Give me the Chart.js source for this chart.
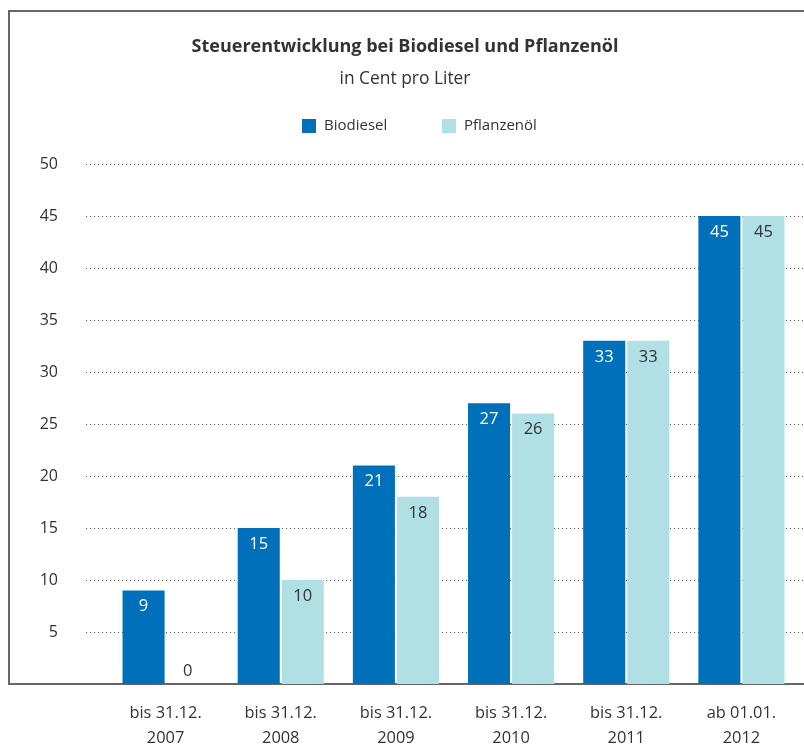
<!DOCTYPE html>
<html>
<head>
<meta charset="utf-8">
<script src="https://cdn.jsdelivr.net/npm/chart.js@4/dist/chart.umd.min.js"></script>
<style>
  html, body { margin: 0; padding: 0; background: #fff; }
  canvas { display: block; }
</style>
</head>
<body>
<canvas id="chart" width="804" height="745"></canvas>
<script>
const categories = [
  ['bis 31.12.', '2007'],
  ['bis 31.12.', '2008'],
  ['bis 31.12.', '2009'],
  ['bis 31.12.', '2010'],
  ['bis 31.12.', '2011'],
  ['ab 01.01.', '2012']
];
const biodiesel = [9, 15, 21, 27, 33, 45];
const pflanzenoel = [0, 10, 18, 26, 33, 45];
const seriesNames = ['Biodiesel', 'Pflanzenöl'];
const yMin = 0, yMax = 50, yStep = 5;

const titleText = 'Steuerentwicklung bei Biodiesel und Pflanzenöl';
const subtitleText = 'in Cent pro Liter';

const FONT = "'Open Sans', sans-serif";
const BLUE = '#0070bb';
const LIGHT = '#b0dfe4';
const TEXT = '#333333';

// frame + title + legend, drawn straight onto the canvas
const decoration = {
  id: 'decoration',
  beforeDraw(chart) {
    const ctx = chart.ctx;
    const base = chart.scales.y.getPixelForValue(0);
    ctx.save();
    ctx.strokeStyle = '#666';
    ctx.lineWidth = 2;
    ctx.beginPath();
    ctx.moveTo(804, 11);
    ctx.lineTo(9, 11);
    ctx.lineTo(9, base);
    ctx.lineTo(804, base);
    ctx.stroke();

    ctx.fillStyle = TEXT;
    ctx.textAlign = 'center';
    ctx.textBaseline = 'middle';
    ctx.font = 'bold 18px ' + FONT;
    ctx.fillText(titleText, 405, 47);
    ctx.font = '17.4px ' + FONT;
    ctx.fillText(subtitleText, 405, 79);

    // legend
    ctx.textAlign = 'left';
    ctx.font = '15px ' + FONT;
    const items = [[302, BLUE], [442, LIGHT]];
    items.forEach((it, i) => {
      ctx.fillStyle = it[1];
      ctx.fillRect(it[0], 119, 14, 14);
      ctx.fillStyle = TEXT;
      ctx.fillText(seriesNames[i], it[0] + 22, 126);
    });
    ctx.restore();
  },
  beforeDatasetsDraw(chart) {
    // dotted grid lines reaching past the plot area
    const ctx = chart.ctx;
    const y = chart.scales.y;
    ctx.save();
    ctx.strokeStyle = '#555';
    ctx.lineWidth = 1;
    ctx.setLineDash([1, 3]);
    y.ticks.forEach(t => {
      if (t.value <= 0) return;
      const py = Math.round(y.getPixelForValue(t.value)) + 0.5;
      ctx.beginPath();
      ctx.moveTo(86, py);
      ctx.lineTo(804, py);
      ctx.stroke();
    });
    ctx.restore();
  },
  afterDatasetsDraw(chart) {
    const ctx = chart.ctx;
    ctx.save();
    ctx.font = '16.5px ' + FONT;
    ctx.textAlign = 'center';
    ctx.textBaseline = 'middle';
    chart.data.datasets.forEach((ds, di) => {
      const meta = chart.getDatasetMeta(di);
      meta.data.forEach((bar, i) => {
        const v = ds.data[i];
        if (v === 0) {
          ctx.fillStyle = TEXT;
          ctx.fillText(String(v), bar.x, bar.base - 13);
        } else {
          ctx.fillStyle = di === 0 ? '#fff' : TEXT;
          ctx.fillText(String(v), bar.x, bar.y + 16);
        }
      });
    });
    ctx.restore();
  }
};

new Chart(document.getElementById('chart'), {
  type: 'bar',
  data: {
    labels: categories,
    datasets: [
      { label: seriesNames[0], data: biodiesel, backgroundColor: BLUE },
      { label: seriesNames[1], data: pflanzenoel, backgroundColor: LIGHT }
    ]
  },
  options: {
    responsive: false,
    animation: false,
    devicePixelRatio: 1,
    layout: { padding: { top: 164, right: 5, bottom: 0, left: 0 } },
    datasets: {
      bar: { categoryPercentage: 0.765, barPercentage: 0.955 }
    },
    scales: {
      x: {
        grid: { display: false },
        border: { display: false },
        afterFit: s => { s.height = 61; },
        ticks: { color: TEXT, padding: 9, font: { family: FONT, size: 16.4, lineHeight: 1.52 } }
      },
      y: {
        min: yMin,
        max: yMax,
        grid: { display: false, drawTicks: false },
        border: { display: false },
        afterFit: s => { s.width = 108; },
        ticks: {
          stepSize: yStep,
          color: TEXT,
          padding: 50,
          font: { family: FONT, size: 16 },
          callback: v => (v === 0 ? '' : v)
        }
      }
    },
    plugins: {
      legend: { display: false },
      tooltip: { enabled: false }
    }
  },
  plugins: [decoration]
});
</script>
</body>
</html>
